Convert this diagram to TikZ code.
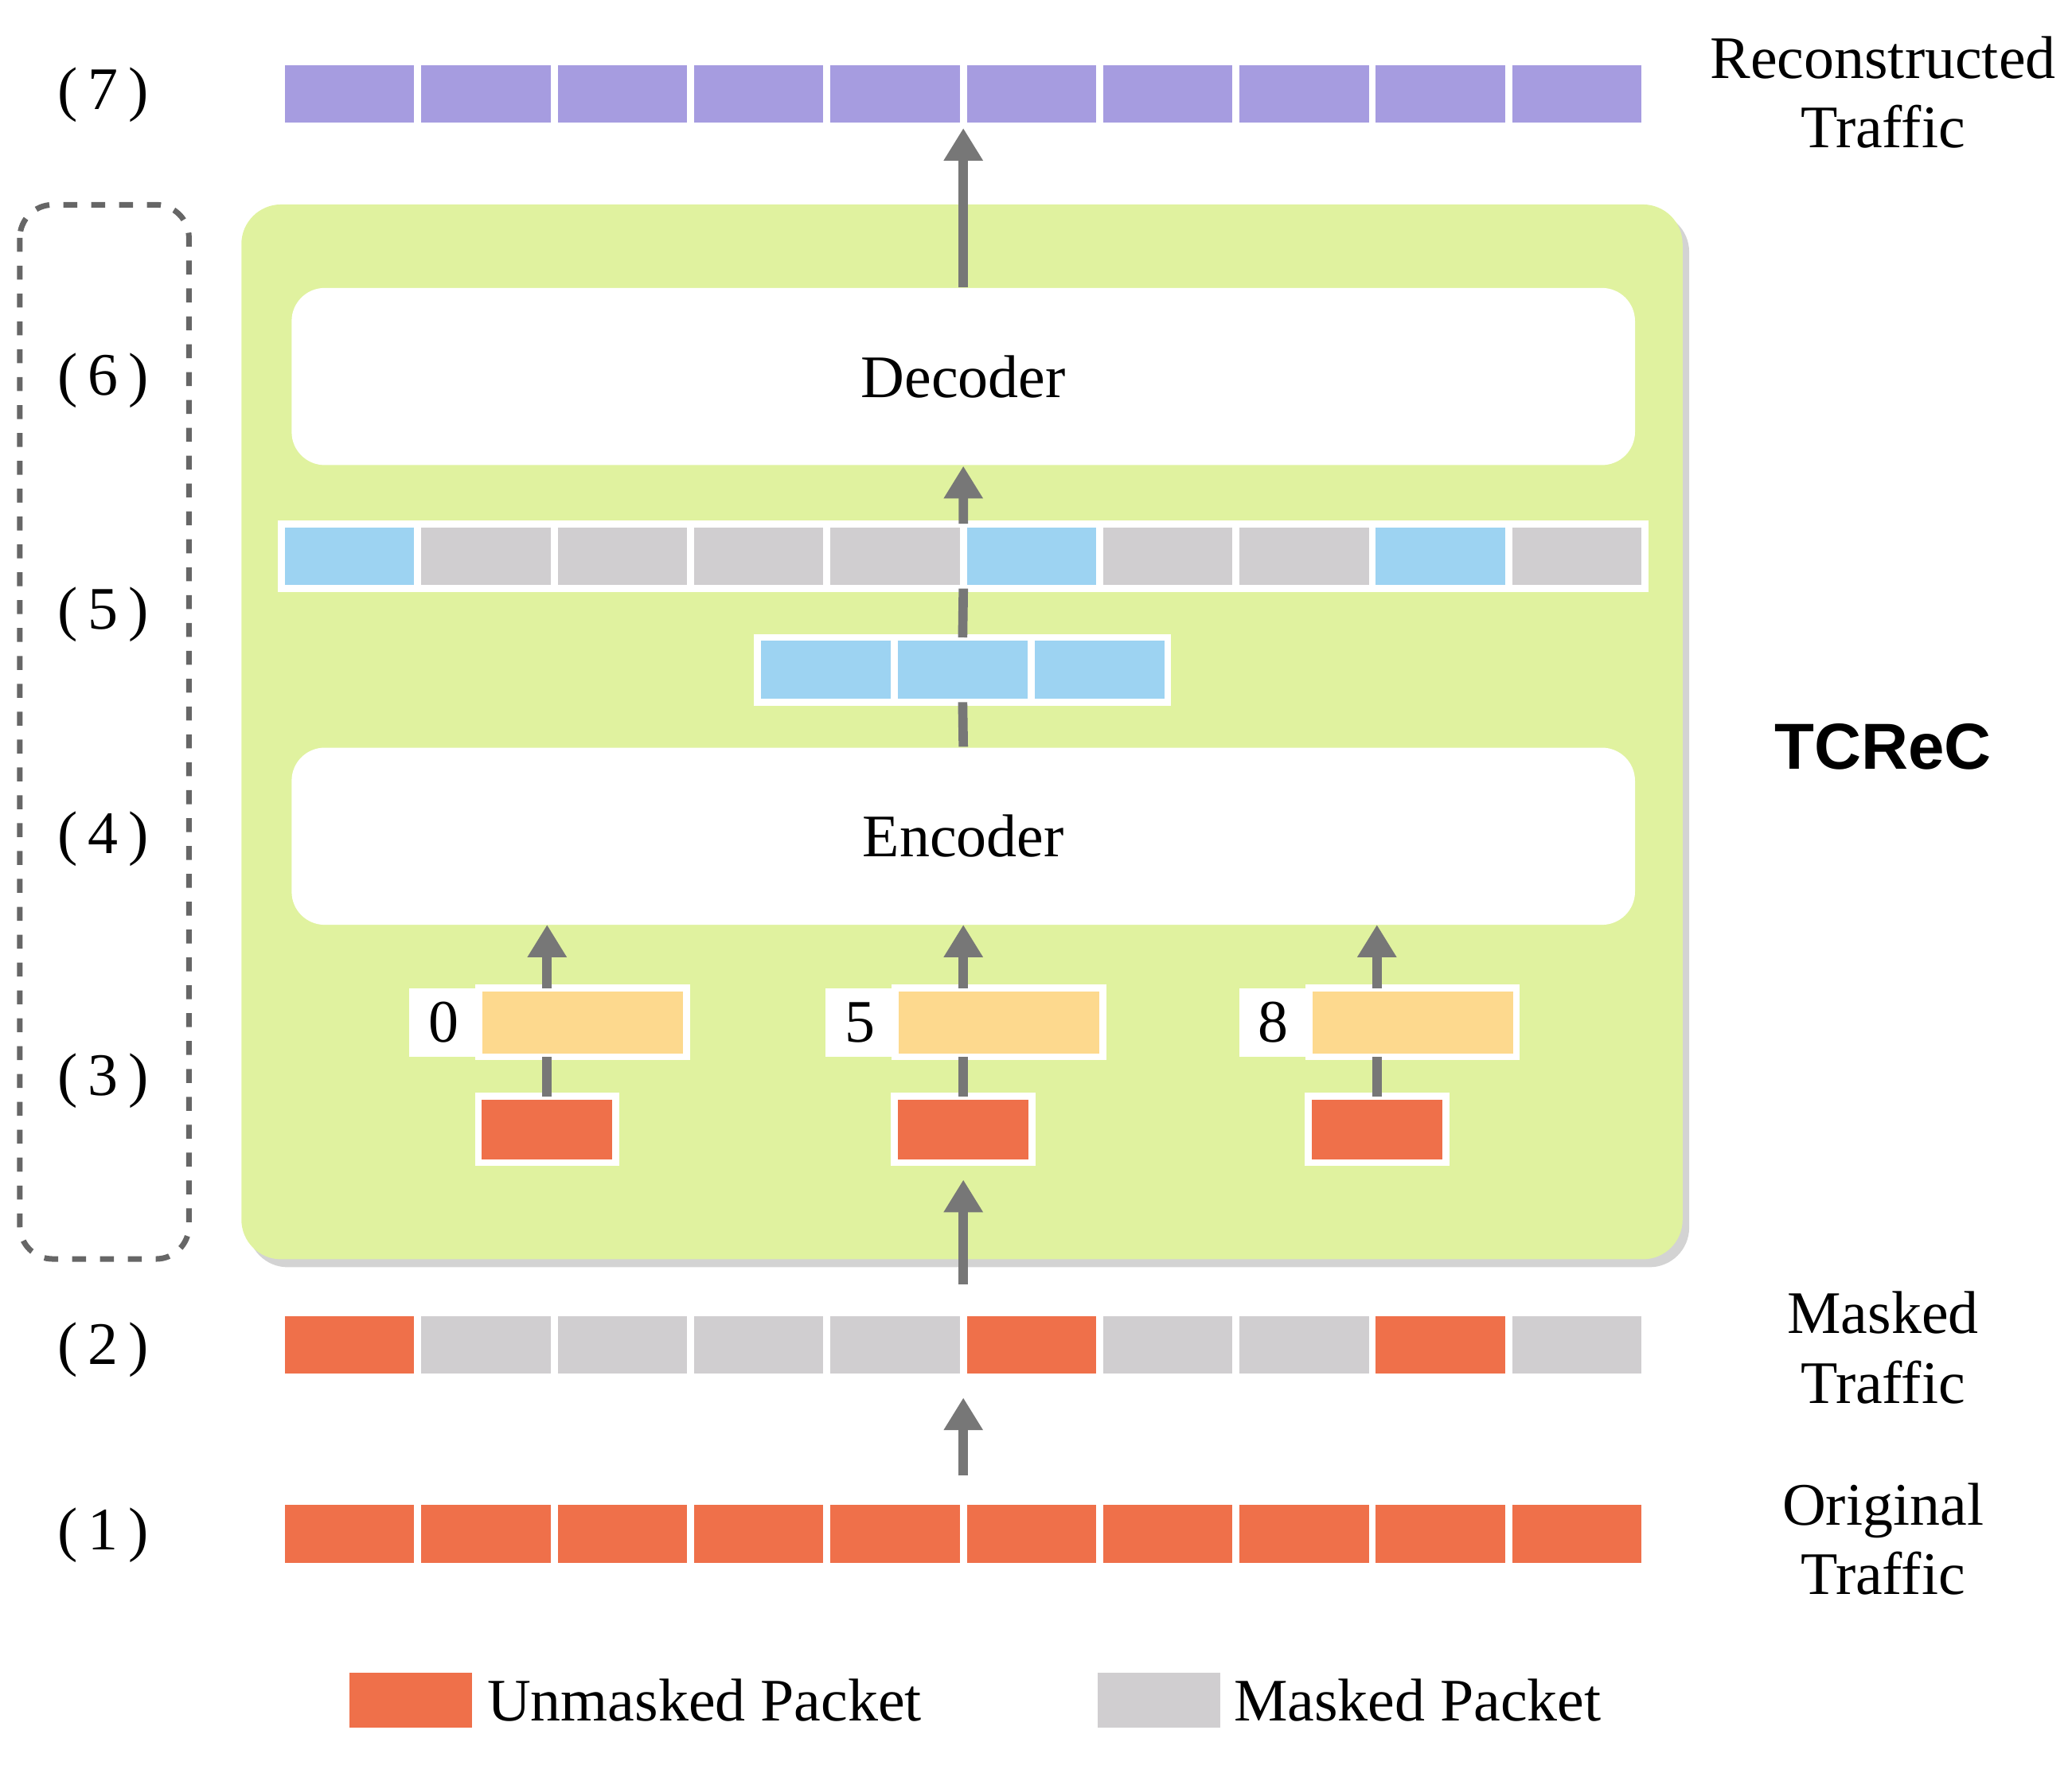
\documentclass[tikz,border=0pt]{standalone}
\usepackage{fontspec}
\setmainfont{Liberation Serif}
\newfontfamily\sansf{Liberation Sans}
\usetikzlibrary{shadows,arrows.meta}
\definecolor{cred}{HTML}{EF704A}
\definecolor{cgray}{HTML}{D0CED0}
\definecolor{cblue}{HTML}{9DD3F2}
\definecolor{cyel}{HTML}{FDD98E}
\definecolor{cpur}{HTML}{A69CE0}
\definecolor{cgreen}{HTML}{E0F29F}
\definecolor{carr}{HTML}{777777}
\begin{document}
\begin{tikzpicture}[x=0.01cm,y=-0.01cm,
 cell/.style={draw=white,line width=1.5pt,minimum width=1.032cm,minimum height=0.49cm,inner sep=0pt,outer sep=0pt},
 box/.style={fill=white,rounded corners=0.25cm,minimum width=10.16cm,minimum height=1.34cm,inner sep=0pt},
 arr/.style={draw=carr,line width=2pt,-{Triangle[length=7pt,width=8pt]}},
 ln/.style={draw=carr,line width=2pt},
 lab/.style={font=\fontsize{13}{15}\selectfont,align=center},
 every node/.style={font=\fontsize{13}{15}\selectfont}]
\useasboundingbox (0,0) rectangle (1568,1342);
% dashed and green
\draw[dashed,draw=gray!80!black,line width=1.2pt,rounded corners=0.25cm] (15,155) rectangle (143,953);
\node[fill=cgreen,rounded corners=0.3cm,minimum width=10.9cm,minimum height=7.98cm,drop shadow={opacity=0.35,shadow xshift=0.05cm,shadow yshift=-0.06cm}] (tc) at (728,554) {};
% rows
\foreach \i in {0,...,9}{
  \node[cell,fill=cpur] (r7c\i) at ({264.6+103.2*\i},71) {};
  \node[cell,fill=cred] (r1c\i) at ({264.6+103.2*\i},1161) {};
}
\foreach \i/\c in {0/cred,1/cgray,2/cgray,3/cgray,4/cgray,5/cred,6/cgray,7/cgray,8/cred,9/cgray}
  \node[cell,fill=\c] (r2c\i) at ({264.6+103.2*\i},1018) {};
\foreach \i/\c in {0/cblue,1/cgray,2/cgray,3/cgray,4/cgray,5/cblue,6/cgray,7/cgray,8/cblue,9/cgray}
  \node[cell,fill=\c] (r5c\i) at ({264.6+103.2*\i},421) {};
\foreach \i in {0,1,2}
  \node[cell,fill=cblue] (s\i) at ({625+103.5*\i},507) {};
\node[box] (dec) at (729,285) {Decoder};
\node[box] (enc) at (729,633) {Encoder};
% embeddings
\foreach \n/\x in {0/414,5/729,8/1042}{
  \node[cell,fill=cyel,minimum width=1.57cm,minimum height=0.52cm] (y\n) at (\x+27,774) {};
  \node[fill=white,minimum width=0.52cm,minimum height=0.52cm,inner sep=0pt,anchor=east] (p\n) at (y\n.west) {\n};
  \node[cell,fill=cred,minimum width=1.04cm,minimum height=0.5cm] (u\n) at (\x,855) {};
  \coordinate (t\n) at (\x,748);
  \coordinate (e\n) at (\x,700);
  \draw[ln] (u\n.north) -- (t\n|-y\n.south);
  \draw[arr] (t\n) -- (e\n);
}
% arrows
\coordinate (a7) at (729,97);
\draw[arr] (dec.north) -- (a7);
\draw[ln] (enc.north) -- (s1.south);
\draw[ln] (s1.north) -- (r5c4.south east);
\draw[arr] (r5c4.north east) -- (dec.south);
\coordinate (g1) at (729,972); \coordinate (g2) at (729,893);
\draw[arr] (g1) -- (g2);
\coordinate (h1) at (729,1117); \coordinate (h2) at (729,1058);
\draw[arr] (h1) -- (h2);
% labels
\foreach \t/\y in {7/72,6/288,5/465,4/635,3/818,2/1022,1/1162}
  \node (n\t) at (78,\y) {(\,\t\,)};
\node[lab] (l7) at (1425,70) {Reconstructed\\Traffic};
\node[font=\sansf\bfseries\fontsize{14}{16}\selectfont] (ltc) at (1425,565) {TCReC};
\node[lab] (l2) at (1425,1020) {Masked\\Traffic};
\node[lab] (l1) at (1425,1165) {Original\\Traffic};
% legend
\node[cell,fill=cred,minimum width=0.98cm,minimum height=0.47cm] (k1) at (311,1287) {};
\node[anchor=west,inner sep=0pt] (k1t) at (368,1287) {Unmasked Packet};
\node[cell,fill=cgray,minimum width=0.98cm,minimum height=0.47cm] (k2) at (877,1287) {};
\node[anchor=west,inner sep=0pt] (k2t) at (933,1287) {Masked Packet};
\end{tikzpicture}
\end{document}
